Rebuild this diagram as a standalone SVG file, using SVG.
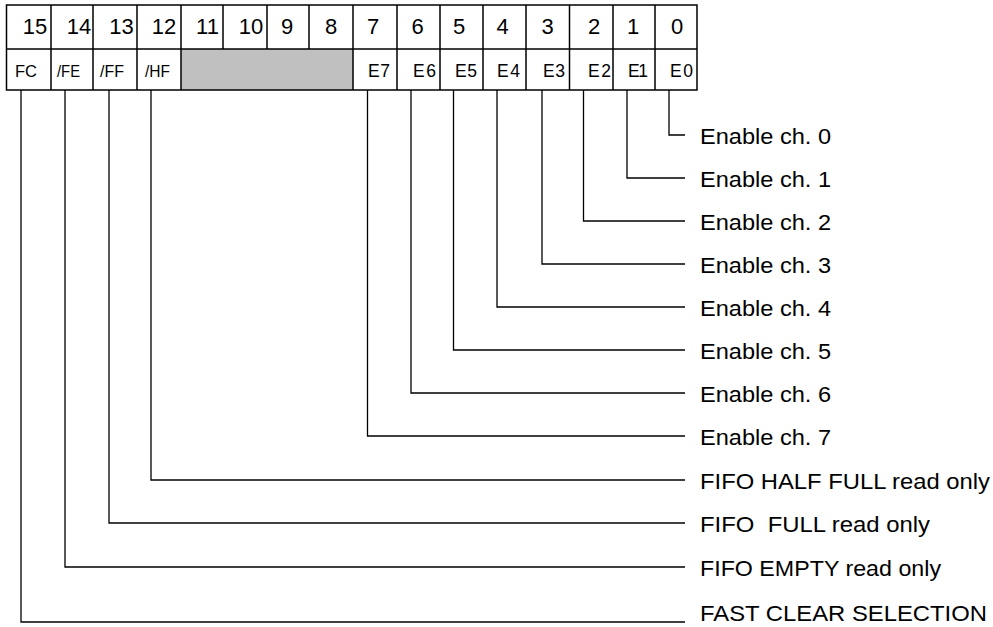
<svg xmlns="http://www.w3.org/2000/svg" width="993" height="627" viewBox="0 0 993 627">
<style>
.g{fill:none;stroke:#000;stroke-width:1.5}
.c{fill:none;stroke:#000;stroke-width:1.3}
.n{font-family:"Liberation Sans",Arial,sans-serif;font-size:22px;fill:#000;text-anchor:middle}
.b{font-family:"Liberation Sans",Arial,sans-serif;font-size:16.5px;fill:#000}
.e{font-family:"Liberation Sans",Arial,sans-serif;font-size:17.5px;fill:#000}
.l{font-family:"Liberation Sans",Arial,sans-serif;font-size:22px;fill:#000;white-space:pre}
</style>
<rect width="993" height="627" fill="#fff"/>
<g id="register">
<rect x="181" y="49" width="172" height="41" fill="#c0c0c0"/>
<rect class="g" x="6.5" y="5" width="690.5" height="85"/>
<line class="g" x1="6.5" y1="49" x2="697" y2="49"/>
<path class="g" d="M51 5V90M93 5V90M137 5V90M181 5V90M223 5V49M267 5V49M309 5V49M353 5V90M397 5V90M440 5V90M483 5V90M526 5V90M569.5 5V90M613 5V90M655 5V90"/>
<g id="bits">
<text class="n" x="35" y="34">15</text>
<text class="n" x="79" y="34">14</text>
<text class="n" x="121.5" y="34">13</text>
<text class="n" x="164" y="34">12</text>
<text class="n" x="207.5" y="34">11</text>
<text class="n" x="251" y="34">10</text>
<text class="n" x="287" y="34">9</text>
<text class="n" x="331" y="34">8</text>
<text class="n" x="373" y="34">7</text>
<text class="n" x="417.5" y="34">6</text>
<text class="n" x="459" y="34">5</text>
<text class="n" x="502.5" y="34">4</text>
<text class="n" x="547.5" y="34">3</text>
<text class="n" x="594" y="34">2</text>
<text class="n" x="633" y="34">1</text>
<text class="n" x="677" y="34">0</text>
</g>
<g id="fields">
<text class="b" x="15" y="77" textLength="22" lengthAdjust="spacingAndGlyphs">FC</text>
<text class="b" x="57" y="77" textLength="23" lengthAdjust="spacingAndGlyphs">/FE</text>
<text class="b" x="100" y="77" textLength="24" lengthAdjust="spacingAndGlyphs">/FF</text>
<text class="b" x="145" y="77" textLength="25" lengthAdjust="spacingAndGlyphs">/HF</text>
<text class="e" x="368" y="77" textLength="22">E7</text>
<text class="e" x="413" y="77" textLength="23">E6</text>
<text class="e" x="455" y="77" textLength="22">E5</text>
<text class="e" x="497" y="77" textLength="23">E4</text>
<text class="e" x="543" y="77" textLength="22">E3</text>
<text class="e" x="588" y="77" textLength="23">E2</text>
<text class="e" x="628" y="77" textLength="20">E1</text>
<text class="e" x="670" y="77" textLength="23">E0</text>
</g>
</g>
<g id="connectors">
<path class="c" d="M669 90V135H685"/>
<path class="c" d="M627 90V178H685"/>
<path class="c" d="M583.5 90V221H685"/>
<path class="c" d="M542 90V264H685"/>
<path class="c" d="M497 90V307H685"/>
<path class="c" d="M453.5 90V350H685"/>
<path class="c" d="M411 90V393H685"/>
<path class="c" d="M367.5 90V436H685"/>
<path class="c" d="M151 90V480H685"/>
<path class="c" d="M109 90V523H685"/>
<path class="c" d="M65 90V567H685"/>
<path class="c" d="M21 90V622H685"/>
</g>
<g id="labels">
<text class="l" x="700" y="143.5" textLength="131" lengthAdjust="spacingAndGlyphs">Enable ch. 0</text>
<text class="l" x="700" y="186.5" textLength="131" lengthAdjust="spacingAndGlyphs">Enable ch. 1</text>
<text class="l" x="700" y="229.5" textLength="131" lengthAdjust="spacingAndGlyphs">Enable ch. 2</text>
<text class="l" x="700" y="272.5" textLength="131" lengthAdjust="spacingAndGlyphs">Enable ch. 3</text>
<text class="l" x="700" y="315.5" textLength="131" lengthAdjust="spacingAndGlyphs">Enable ch. 4</text>
<text class="l" x="700" y="358.5" textLength="131" lengthAdjust="spacingAndGlyphs">Enable ch. 5</text>
<text class="l" x="700" y="401.5" textLength="131" lengthAdjust="spacingAndGlyphs">Enable ch. 6</text>
<text class="l" x="700" y="444.5" textLength="131" lengthAdjust="spacingAndGlyphs">Enable ch. 7</text>
<text class="l" x="700" y="488.5" textLength="290" lengthAdjust="spacingAndGlyphs">FIFO HALF FULL read only</text>
<text class="l" x="700" y="531.5" textLength="230" lengthAdjust="spacingAndGlyphs">FIFO  FULL read only</text>
<text class="l" x="700" y="575.5" textLength="241" lengthAdjust="spacingAndGlyphs">FIFO EMPTY read only</text>
<text class="l" x="700" y="621" textLength="287" lengthAdjust="spacingAndGlyphs">FAST CLEAR SELECTION</text>
</g>
</svg>
